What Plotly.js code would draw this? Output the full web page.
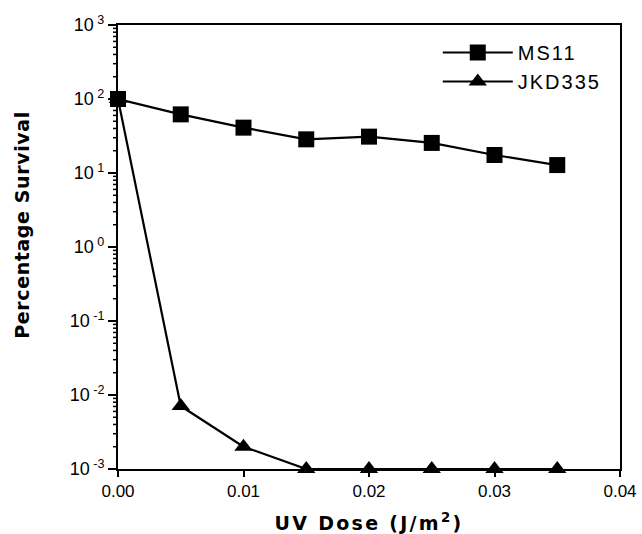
<!DOCTYPE html>
<html>
<head>
<meta charset="utf-8">
<script src="https://cdn.plot.ly/plotly-3.0.1.min.js"></script>
<style>
html,body{margin:0;padding:0;background:#fff;}
#chart{width:642px;height:534px;}
.xtitle{letter-spacing:2.3px;}
.annotation-text{letter-spacing:0.6px;}
.legendtext{letter-spacing:2px;}
</style>
</head>
<body>
<div id="chart"></div>
<script>
const doseX = [0, 0.005, 0.01, 0.015, 0.02, 0.025, 0.03, 0.035];
const ms11 = [100, 62, 41, 28.5, 31, 25.5, 17.5, 12.8];
const jkd335 = [100, 0.0071, 0.002, 0.001, 0.001, 0.001, 0.001, 0.001];
const seriesNames = ["MS11", "JKD335"];
const yTickVals = [1e-3, 1e-2, 1e-1, 1, 10, 100, 1000];
const yTickText = ["10<sup> -3</sup>", "10<sup> -2</sup>", "10<sup> -1</sup>", "10<sup> 0</sup>", "10<sup> 1</sup>", "10<sup> 2</sup>", "10<sup> 3</sup>"];
const xTickVals = [0, 0.01, 0.02, 0.03, 0.04];
const xTickText = ["0.00", "0.01", "0.02", "0.03", "0.04"];
const decades = [1e-3, 1e-2, 1e-1, 1, 10, 100];
const minorMult = [2, 3, 4, 5, 6, 7, 8, 9];
const yMinorVals = [];
decades.forEach(d => minorMult.forEach(m => yMinorVals.push(d * m)));

const yLogRange = [-3, 3];
const toPaperY = v => (Math.log10(v) - yLogRange[0]) / (yLogRange[1] - yLogRange[0]);

const font = "Liberation Sans, Arial, sans-serif";
const titleFont = "DejaVu Sans, Liberation Sans, sans-serif";
const traces = [
  {x: doseX, y: ms11, name: seriesNames[0], legendgroup: "a", mode: "lines+markers", cliponaxis: false,
   line: {color: "#000", width: 2.2}, marker: {symbol: "square", size: 16, color: "#000"}},
  {x: doseX, y: jkd335, name: seriesNames[1], legendgroup: "b", mode: "lines+markers", cliponaxis: false,
   line: {color: "#000", width: 2.2}, marker: {symbol: "triangle-up", size: 16, color: "#000"}}
];
const minorShapes = yMinorVals.map(v => ({
  type: "line", xref: "paper", xsizemode: "pixel", xanchor: 0, x0: -5, x1: 0,
  yref: "paper", y0: toPaperY(v), y1: toPaperY(v), line: {color: "#000", width: 1.5}, layer: "above"
}));
const layout = {
  width: 642, height: 534,
  margin: {l: 118, r: 22, t: 25, b: 65},
  paper_bgcolor: "#fff", plot_bgcolor: "#fff",
  font: {family: font, size: 17, color: "#000"},
  showlegend: true,
  legend: {x: 0.637, y: 0.982, xanchor: "left", yanchor: "top", bgcolor: "rgba(0,0,0,0)",
           font: {size: 20}, tracegroupgap: 0, itemwidth: 70},
  xaxis: {range: [0, 0.04], tickvals: xTickVals, ticktext: xTickText,
          ticks: "outside", ticklen: 6, tickwidth: 2, tickcolor: "#000", showgrid: false, zeroline: false,
          showline: true, linewidth: 2, linecolor: "#000", mirror: true,
          tickfont: {size: 17},
          title: {text: "<b>UV Dose (J/m<sup>2</sup>)</b>", font: {family: titleFont, size: 19}, standoff: 18}},
  yaxis: {type: "log", range: yLogRange, tickvals: yTickVals, ticktext: yTickText,
          ticks: "outside", ticklen: 8, tickwidth: 2, tickcolor: "#000", showgrid: false, zeroline: false,
          showline: true, linewidth: 2, linecolor: "#000", mirror: true,
          tickfont: {size: 18}},
  shapes: minorShapes,
  annotations: [{text: "<b>Percentage Survival</b>", xref: "paper", yref: "paper",
                 x: 0, y: 0.548, xshift: -109, textangle: -90, showarrow: false,
                 font: {family: titleFont, size: 19}}]
};
Plotly.newPlot("chart", traces, layout, {displayModeBar: false, staticPlot: true});
</script>
</body>
</html>
